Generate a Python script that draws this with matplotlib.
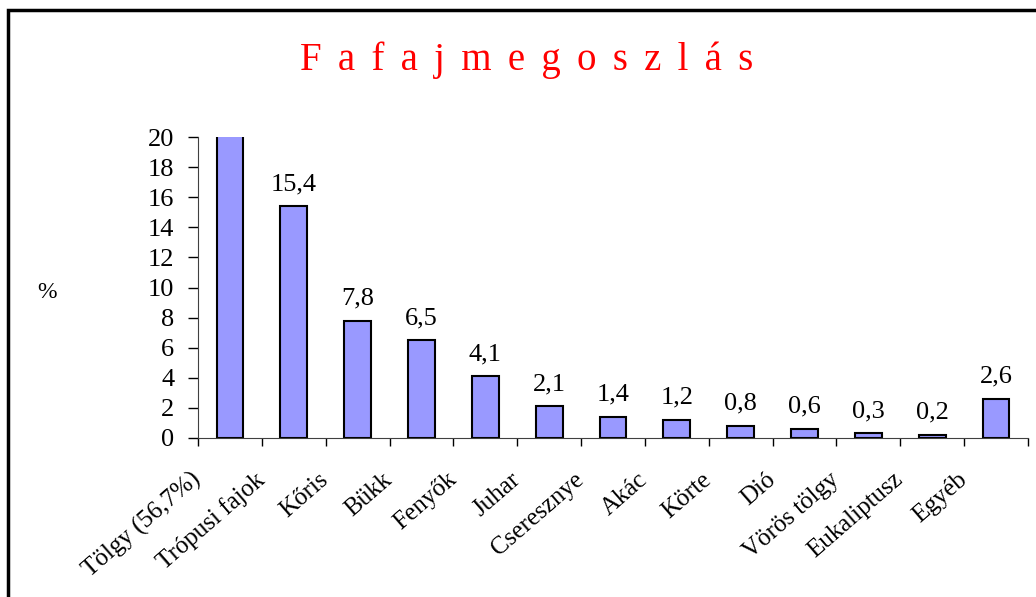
import matplotlib.pyplot as plt
from matplotlib.patches import Rectangle

categories = ['Tölgy (56,7%)', 'Trópusi fajok', 'Kőris', 'Bükk', 'Fenyők', 'Juhar',
              'Cseresznye', 'Akác', 'Körte', 'Dió', 'Vörös tölgy', 'Eukaliptusz', 'Egyéb']
values = [56.7, 15.4, 7.8, 6.5, 4.1, 2.1, 1.4, 1.2, 0.8, 0.6, 0.3, 0.2, 2.6]
labels = ['', '15,4', '7,8', '6,5', '4,1', '2,1', '1,4', '1,2', '0,8', '0,6', '0,3', '0,2', '2,6']
title = 'Fafajmegoszlás'

plt.rcParams['font.family'] = ['Liberation Serif', 'DejaVu Serif']

fig = plt.figure(figsize=(10.36, 5.97), dpi=100)
ax = fig.add_axes([198/1036, 1-438/597, 830/1036, 301/597])

x = list(range(len(categories)))
ax.bar(x, values, width=0.42, color='#9999FF', edgecolor='black', linewidth=1.5)

for i, v in enumerate(values):
    if labels[i]:
        ax.annotate(labels[i], (i, v), xytext=(0, 8), textcoords='offset points',
                    ha='center', va='bottom', fontsize=19)

ax.set_xlim(-0.5, len(categories) - 0.5)
ax.set_ylim(0, 20)
ax.set_yticks(range(0, 21, 2))
ax.tick_params(axis='y', labelsize=19, length=7, width=1, direction='out', pad=10)

ax.set_xticks([i - 0.5 for i in range(len(categories) + 1)])
ax.set_xticklabels([])
ax.tick_params(axis='x', length=6, width=1, direction='out')
for i, c in enumerate(categories):
    ax.annotate(c, (i, 0), xytext=(-23, -28), textcoords='offset points',
                rotation=41, rotation_mode='anchor', ha='right', va='center',
                fontsize=18)

ax.spines['top'].set_visible(False)
ax.spines['right'].set_visible(False)
ax.spines['bottom'].set_color('#404040')
ax.spines['left'].set_color('#404040')

fig.text(527/1036, 1-70/597, '\u200a \u200a'.join(title), color='red',
         fontsize=28, ha='center', va='baseline')
fig.text(47/1036, 1-292/597, '%', fontsize=17, ha='center', va='center')

fig.patches.append(Rectangle((8/1036, -0.1), 1.2, 1 - 10/597 + 0.1, transform=fig.transFigure,
                             fill=False, edgecolor='black', linewidth=2.5))

fig.savefig('out.png', dpi=100)
